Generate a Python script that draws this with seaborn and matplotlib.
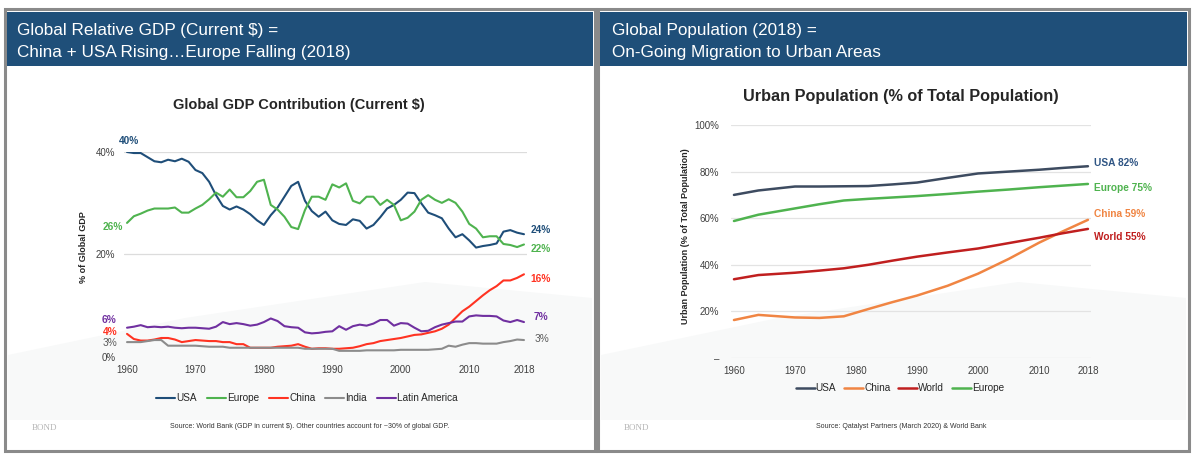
import pandas as pd
import matplotlib.pyplot as plt
import seaborn as sns
from matplotlib.patches import Rectangle, Polygon

# GDP share data (% of global GDP, current $)
gdp_years = list(range(1960, 2019))
usa_gdp = [39.9, 39.7, 39.7, 38.9, 38.1, 37.9, 38.4, 38.1, 38.6, 38.0,
           36.4, 35.8, 34.1, 31.5, 29.4, 28.7, 29.3, 28.7, 27.8, 26.6,
           25.7, 27.6, 29.1, 31.2, 33.3, 34.1, 30.4, 28.4, 27.3, 28.3,
           26.6, 25.9, 25.7, 26.8, 26.5, 25.0, 25.7, 27.2, 28.9, 29.6,
           30.6, 32.0, 31.9, 29.9, 28.1, 27.6, 27.0, 25.0, 23.3, 23.9,
           22.7, 21.3, 21.6, 21.8, 22.1, 24.4, 24.7, 24.2, 23.9]
europe_gdp = [26.1, 27.4, 27.9, 28.5, 28.9, 28.9, 28.9, 29.1, 28.1, 28.1,
              28.9, 29.6, 30.7, 32.0, 31.2, 32.6, 31.1, 31.1, 32.3, 34.1,
              34.5, 29.6, 28.7, 27.3, 25.3, 24.9, 28.6, 31.2, 31.2, 30.6,
              33.6, 33.0, 33.8, 30.4, 29.9, 31.2, 31.2, 29.6, 30.6, 29.6,
              26.6, 27.1, 28.3, 30.6, 31.5, 30.6, 30.0, 30.7, 30.0, 28.3,
              25.9, 25.0, 23.3, 23.5, 23.5, 22.0, 21.8, 21.4, 21.9]
china_gdp = [4.5, 3.5, 3.2, 3.2, 3.4, 3.7, 3.7, 3.4, 2.9, 3.1,
             3.3, 3.2, 3.1, 3.1, 2.9, 2.9, 2.5, 2.5, 1.8, 1.8,
             1.8, 1.8, 2.0, 2.1, 2.2, 2.5, 2.0, 1.6, 1.7, 1.7,
             1.6, 1.6, 1.7, 1.8, 2.1, 2.5, 2.7, 3.1, 3.3, 3.5,
             3.7, 4.0, 4.3, 4.4, 4.7, 5.0, 5.5, 6.3, 7.6, 8.9,
             9.8, 10.9, 12.0, 13.0, 13.8, 14.9, 14.9, 15.4, 16.1]
india_gdp = [2.9, 2.9, 2.9, 3.1, 3.3, 3.3, 2.2, 2.2, 2.2, 2.2,
             2.2, 2.1, 2.0, 2.0, 2.0, 1.8, 1.8, 1.8, 1.8, 1.8,
             1.8, 1.8, 1.8, 1.8, 1.8, 1.8, 1.6, 1.6, 1.6, 1.6,
             1.6, 1.2, 1.2, 1.2, 1.2, 1.3, 1.3, 1.3, 1.3, 1.3,
             1.4, 1.4, 1.4, 1.4, 1.4, 1.5, 1.6, 2.2, 2.0, 2.4,
             2.7, 2.7, 2.6, 2.6, 2.6, 2.9, 3.1, 3.4, 3.3]
latam_gdp = [5.7, 5.9, 6.2, 5.8, 5.9, 5.8, 5.9, 5.7, 5.6, 5.7,
             5.7, 5.6, 5.5, 5.9, 6.8, 6.4, 6.6, 6.4, 6.1, 6.3,
             6.8, 7.5, 7.0, 6.0, 5.8, 5.7, 4.8, 4.6, 4.7, 4.9,
             5.0, 6.0, 5.3, 6.0, 6.3, 6.1, 6.5, 7.2, 7.2, 6.1,
             6.6, 6.5, 5.7, 5.0, 5.1, 5.8, 6.3, 6.6, 6.9, 6.9,
             7.9, 8.1, 8.0, 8.0, 7.9, 7.1, 6.8, 7.2, 6.8]

# Urban population data (% of total population)
urb_years = [1960, 1964, 1970, 1974, 1978, 1982, 1986, 1990, 1995, 2000, 2005, 2010, 2014, 2018]
usa_urb = [70.0, 71.9, 73.6, 73.6, 73.7, 73.8, 74.5, 75.3, 77.3, 79.2, 80.0, 80.8, 81.6, 82.3]
china_urb = [16.3, 18.5, 17.4, 17.2, 17.9, 21.0, 24.0, 26.8, 31.0, 36.2, 42.5, 49.5, 54.5, 59.3]
world_urb = [33.8, 35.6, 36.6, 37.5, 38.5, 40.0, 41.8, 43.5, 45.3, 47.0, 49.3, 51.6, 53.6, 55.4]
europe_urb = [58.8, 61.5, 64.2, 66.0, 67.6, 68.3, 68.9, 69.5, 70.4, 71.4, 72.3, 73.3, 74.0, 74.7]

year_ticks = [1960, 1970, 1980, 1990, 2000, 2010, 2018]

gdp_colors = {'USA': '#1f4e79', 'Europe': '#4fb34f', 'China': '#ff3322',
              'India': '#8c8c8c', 'Latin America': '#7030a0'}
urb_colors = {'USA': '#3d4b60', 'China': '#f08543', 'World': '#c01f1f', 'Europe': '#4fb34f'}

df_gdp = pd.DataFrame({'year': gdp_years, 'USA': usa_gdp, 'Europe': europe_gdp,
                       'China': china_gdp, 'India': india_gdp, 'Latin America': latam_gdp})
df_gdp = df_gdp.melt(id_vars='year', var_name='region', value_name='share')
df_urb = pd.DataFrame({'year': urb_years, 'USA': usa_urb, 'China': china_urb,
                       'World': world_urb, 'Europe': europe_urb})
df_urb = df_urb.melt(id_vars='year', var_name='region', value_name='share')

sns.set_theme(style='white')
plt.rcParams['font.family'] = ['Liberation Sans', 'DejaVu Sans']

W, H = 1200, 463
fig = plt.figure(figsize=(12, 4.63), dpi=100)


def fx(px):
    return px / W


def fy(py):
    return 1 - py / H


def box(x0, y0, x1, y1):
    return [fx(x0), fy(y1), fx(x1) - fx(x0), fy(y0) - fy(y1)]


# Panels, headers and faint background shapes
for (x0, x1) in [(5, 595), (598, 1189)]:
    fig.patches.append(Polygon([(fx(x0 + 3), fy(420)), (fx(x0 + 3), fy(355)), (fx(x0 + 180), fy(318)),
                                (fx(x0 + 420), fy(282)), (fx(x1 - 3), fy(298)), (fx(x1 - 3), fy(420))],
                               closed=True, transform=fig.transFigure, facecolor='#f8f9f9',
                               edgecolor='none', zorder=-2))
    fig.patches.append(Rectangle((fx(x0), fy(451)), fx(x1) - fx(x0), fy(9) - fy(451),
                                 transform=fig.transFigure, facecolor='none',
                                 edgecolor='#8a8a8a', linewidth=2.2, zorder=-1))
    fig.patches.append(Rectangle((fx(x0 + 2), fy(66)), fx(x1 - 2) - fx(x0 + 2), fy(12) - fy(66),
                                 transform=fig.transFigure, facecolor='#1f4f79',
                                 edgecolor='none', zorder=-1))

hdr = dict(color='white', fontsize=12.3, va='center')
fig.text(fx(17), fy(30), 'Global Relative GDP (Current $) =', **hdr)
fig.text(fx(17), fy(52), 'China + USA Rising\u2026Europe Falling (2018)', **hdr)
fig.text(fx(612), fy(30), 'Global Population (2018) =', **hdr)
fig.text(fx(612), fy(52), 'On-Going Migration to Urban Areas', **hdr)

# ---------------- Left chart: GDP contribution ----------------
ax1 = fig.add_axes(box(123.6, 151.5, 527.4, 357))
sns.lineplot(data=df_gdp, x='year', y='share', hue='region', palette=gdp_colors,
             hue_order=list(gdp_colors), linewidth=1.5, ax=ax1)
ax1.set_xlim(1959.5, 2018.5)
ax1.set_ylim(0, 40)
ax1.set_yticks([0, 20, 40])
ax1.set_yticklabels(['0%', '20%', '40%'])
ax1.set_xticks(year_ticks)
ax1.tick_params(axis='both', labelsize=7, colors='#404040', length=0)
ax1.tick_params(axis='y', pad=6)
ax1.tick_params(axis='x', pad=5.5)
ax1.yaxis.grid(True, color='#dcdcdc', linewidth=0.9)
ax1.get_ygridlines()[0].set_visible(False)
for s in ax1.spines.values():
    s.set_visible(False)
ax1.set_xlabel('')
ax1.set_ylabel('')
ax1.patch.set_alpha(0)
sns.move_legend(ax1, 'center', bbox_to_anchor=(fx(307), fy(398)), bbox_transform=fig.transFigure,
                ncol=5, frameon=False, title=None, fontsize=7.2, handlelength=1.9,
                handletextpad=0.1, columnspacing=1.0)
for line in ax1.get_legend().get_lines():
    line.set_linewidth(1.5)

lbl = dict(fontsize=7.3, fontweight='bold', va='center', clip_on=False)
ax1.text(1960.3, 42.1, '40%', color=gdp_colors['USA'], ha='center', **lbl)
ax1.text(1959.4, 25.4, '26%', color=gdp_colors['Europe'], ha='right', **lbl)
ax1.text(1958.5, 7.2, '6%', color=gdp_colors['Latin America'], ha='right', **lbl)
ax1.text(1958.6, 4.9, '4%', color=gdp_colors['China'], ha='right', **lbl)
ax1.text(1958.6, 2.7, '3%', color='#595959', ha='right', fontsize=7.3, va='center')
ax1.text(2019.0, 24.8, '24%', color=gdp_colors['USA'], ha='left', **lbl)
ax1.text(2019.0, 21.0, '22%', color=gdp_colors['Europe'], ha='left', **lbl)
ax1.text(2019.0, 15.2, '16%', color=gdp_colors['China'], ha='left', **lbl)
ax1.text(2019.4, 7.7, '7%', color=gdp_colors['Latin America'], ha='left', **lbl)
ax1.text(2019.5, 3.5, '3%', color='#595959', ha='left', fontsize=7.3, va='center')

fig.text(fx(299), fy(105), 'Global GDP Contribution (Current $)', fontsize=10.5, fontweight='bold',
         color='#262626', ha='center', va='center')
fig.text(fx(83), fy(247), '% of Global GDP', fontsize=6.5, fontweight='bold', color='#262626',
         rotation=90, ha='center', va='center')
fig.text(fx(310), fy(426), 'Source: World Bank (GDP in current $). Other countries account for ~30% of global GDP.',
         fontsize=5, color='#333333', ha='center', va='center')
fig.text(fx(45), fy(428), 'BOND', fontsize=6.5, color='#b5b5b5', family='Liberation Serif',
         ha='center', va='center')

# ---------------- Right chart: urban population ----------------
ax2 = fig.add_axes(box(730.6, 125, 1091, 358))
sns.lineplot(data=df_urb, x='year', y='share', hue='region', palette=urb_colors,
             hue_order=list(urb_colors), linewidth=1.8, ax=ax2)
ax2.set_xlim(1959.45, 2018.5)
ax2.set_ylim(0, 100)
ax2.set_yticks([0, 20, 40, 60, 80, 100])
ax2.set_yticklabels(['\u2013', '20%', '40%', '60%', '80%', '100%'])
ax2.set_xticks(year_ticks)
ax2.tick_params(axis='both', labelsize=7, colors='#404040', length=0)
ax2.tick_params(axis='y', pad=8)
ax2.tick_params(axis='x', pad=6)
ax2.yaxis.grid(True, color='#e3e3e3', linewidth=0.9)
for s in ax2.spines.values():
    s.set_visible(False)
ax2.set_xlabel('')
ax2.set_ylabel('')
ax2.patch.set_alpha(0)
sns.move_legend(ax2, 'center', bbox_to_anchor=(fx(900), fy(388)), bbox_transform=fig.transFigure,
                ncol=4, frameon=False, title=None, fontsize=7.2, handlelength=1.9,
                handletextpad=0.1, columnspacing=0.8)
for line in ax2.get_legend().get_lines():
    line.set_linewidth(1.8)

ax2.text(2019.0, 83.6, 'USA 82%', color='#2f5584', ha='left', **lbl)
ax2.text(2019.0, 73.1, 'Europe 75%', color=urb_colors['Europe'], ha='left', **lbl)
ax2.text(2019.0, 61.7, 'China 59%', color=urb_colors['China'], ha='left', **lbl)
ax2.text(2019.0, 52.1, 'World 55%', color=urb_colors['World'], ha='left', **lbl)

fig.text(fx(901), fy(96), 'Urban Population (% of Total Population)', fontsize=11.7, fontweight='bold',
         color='#262626', ha='center', va='center')
fig.text(fx(686), fy(236), 'Urban Population (% of Total Population)', fontsize=6.5, fontweight='bold',
         color='#262626', rotation=90, ha='center', va='center')
fig.text(fx(901), fy(426), 'Source: Qatalyst Partners (March 2020) & World Bank',
         fontsize=5, color='#333333', ha='center', va='center')
fig.text(fx(637), fy(428), 'BOND', fontsize=6.5, color='#b5b5b5', family='Liberation Serif',
         ha='center', va='center')

fig.savefig('out.png', dpi=100)
